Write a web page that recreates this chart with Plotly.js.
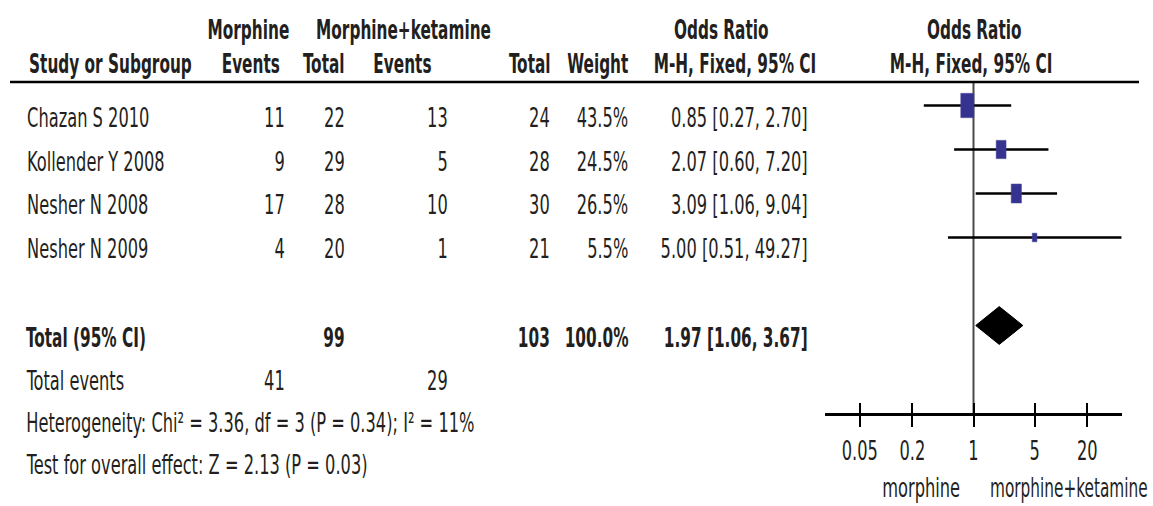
<!DOCTYPE html>
<html>
<head>
<meta charset="utf-8">
<script src="https://cdn.plot.ly/plotly-3.0.1.min.js"></script>
<style>html,body{margin:0;padding:0;background:#fff;}#chart{width:1153px;height:506px;}</style>
</head>
<body>
<div id="chart"></div>
<script>
// ---------------- data ----------------
const studies = ['Chazan S 2010', 'Kollender Y 2008', 'Nesher N 2008', 'Nesher N 2009'];
const morphineEvents = [11, 9, 17, 4];
const morphineTotal = [22, 29, 28, 20];
const ketamineEvents = [13, 5, 10, 1];
const ketamineTotal = [24, 28, 30, 21];
const weights = [43.5, 24.5, 26.5, 5.5];
const orEstimate = [0.85, 2.07, 3.09, 5.00];
const orLower = [0.27, 0.60, 1.06, 0.51];
const orUpper = [2.70, 7.20, 9.04, 49.27];
const pooledOR = [1.97];
const pooledLower = [1.06];
const pooledUpper = [3.67];
const totalMorphine = [99];
const totalKetamine = [103];
const totalWeight = [100.0];
const totalMorphineEvents = [41];
const totalKetamineEvents = [29];
const heterogeneityText = ['Heterogeneity: Chi² = 3.36, df = 3 (P = 0.34); I² = 11%'];
const overallEffectText = ['Test for overall effect: Z = 2.13 (P = 0.03)'];
const tickValues = [0.05, 0.2, 1, 5, 20];
const tickLabels = ['0.05', '0.2', '1', '5', '20'];
const favoursLabels = ['morphine', 'morphine+ketamine'];

// ---------------- layout helpers ----------------
const W = 1153, H = 506;
const FONT = '"DejaVu Sans Condensed", "Liberation Sans Narrow", sans-serif';
const TXT = '#231f20';
const FS = 26;
const SX_REG = 0.695, SX_BOLD = 0.655;       // horizontal condensing of the text
const ROW0 = 105.5, ROWSTEP = 44;            // pixel position of row 0 and row spacing
const AXIS_Y = 413;                          // pixel y of the forest axis line
const X0PX = 825, X1PX = 1122;               // pixel extent of forest axis
const XMIN = 0.02, XMAX = 50;
const PX_PER_DECADE = (X1PX - X0PX) / (Math.log10(XMAX) - Math.log10(XMIN));
const px2r = p => (p - ROW0) / ROWSTEP;
const px = x => x / W;
const py = y => 1 - y / H;

const annotations = [];
const annMeta = [];
function txt(text, xpx, ypx, anchor, bold) {
  annotations.push({
    text: bold ? '<b>' + text + '</b>' : text,
    xref: 'paper', yref: 'paper', x: px(xpx), y: py(ypx),
    xanchor: anchor, yanchor: 'middle', showarrow: false,
    font: {family: FONT, size: FS, color: TXT}, borderpad: 0
  });
  annMeta.push({anchor: anchor, sx: bold ? SX_BOLD : SX_REG});
}

// header
txt('Morphine', 248, 30, 'center', true);
txt('Morphine+ketamine', 403, 30, 'center', true);
txt('Odds Ratio', 721, 30, 'center', true);
txt('Odds Ratio', 974, 30, 'center', true);
txt('Study or Subgroup', 28, 64, 'left', true);
txt('Events', 281, 64, 'right', true);
txt('Total', 346, 64, 'right', true);
txt('Events', 402, 64, 'center', true);
txt('Total', 552, 64, 'right', true);
txt('Weight', 629, 64, 'right', true);
txt('M-H, Fixed, 95% CI', 817, 64, 'right', true);
txt('M-H, Fixed, 95% CI', 971, 64, 'center', true);

// study rows
const textRows = [118, 162, 205, 249];
studies.forEach((s, i) => {
  const y = textRows[i];
  txt(s, 26, y, 'left');
  txt(String(morphineEvents[i]), 286, y, 'right');
  txt(String(morphineTotal[i]), 346, y, 'right');
  txt(String(ketamineEvents[i]), 449, y, 'right');
  txt(String(ketamineTotal[i]), 551, y, 'right');
  txt(weights[i].toFixed(1) + '%', 629, y, 'right');
  txt(orEstimate[i].toFixed(2) + ' [' + orLower[i].toFixed(2) + ', ' + orUpper[i].toFixed(2) + ']', 809, y, 'right');
});

// totals
txt('Total (95% CI)', 25, 338, 'left', true);
txt(String(totalMorphine[0]), 346, 338, 'right', true);
txt(String(totalKetamine[0]), 551, 338, 'right', true);
txt(totalWeight[0].toFixed(1) + '%', 629, 338, 'right', true);
txt(pooledOR[0].toFixed(2) + ' [' + pooledLower[0].toFixed(2) + ', ' + pooledUpper[0].toFixed(2) + ']', 809, 338, 'right', true);
txt('Total events', 25, 381, 'left');
txt(String(totalMorphineEvents[0]), 286, 381, 'right');
txt(String(totalKetamineEvents[0]), 449, 381, 'right');
txt(heterogeneityText[0], 25, 423, 'left');
txt(overallEffectText[0], 25, 465, 'left');

// favours labels (relative to the line of no effect)
annotations.push({text: favoursLabels[0], xref: 'x', yref: 'paper', x: 0, y: py(488),
  xanchor: 'right', yanchor: 'middle', xshift: -13, showarrow: false,
  font: {family: FONT, size: FS, color: TXT}, borderpad: 0});
annMeta.push({anchor: 'right', sx: SX_REG});
annotations.push({text: favoursLabels[1], xref: 'x', yref: 'paper', x: 0, y: py(488),
  xanchor: 'left', yanchor: 'middle', xshift: 15, showarrow: false,
  font: {family: FONT, size: FS, color: TXT}, borderpad: 0});
annMeta.push({anchor: 'left', sx: 0.655});

// ---------------- traces ----------------
const traces = [];
studies.forEach((s, i) => {
  traces.push({type: 'scatter', mode: 'lines', x: [orLower[i], orUpper[i]], y: [i, i],
    line: {color: '#000000', width: 2.5}, hoverinfo: 'skip', showlegend: false});
});
const TOTAL_ROW = 5, DIAMOND_HALF = 0.43;
traces.push({type: 'scatter', mode: 'lines', fill: 'toself', fillcolor: '#000000',
  x: [pooledLower[0], pooledOR[0], pooledUpper[0], pooledOR[0], pooledLower[0]],
  y: [TOTAL_ROW, TOTAL_ROW - DIAMOND_HALF, TOTAL_ROW, TOTAL_ROW + DIAMOND_HALF, TOTAL_ROW],
  line: {color: '#000000', width: 1}, hoverinfo: 'skip', showlegend: false});
// invisible trace to instantiate the inner-tick axis
traces.push({type: 'scatter', mode: 'markers', x: [1], y: [0], xaxis: 'x2', yaxis: 'y',
  marker: {opacity: 0}, hoverinfo: 'skip', showlegend: false});

// ---------------- shapes ----------------
const shapes = [];
shapes.push({type: 'line', xref: 'paper', yref: 'paper', x0: px(10), x1: px(1139), y0: py(82), y1: py(82),
  line: {color: '#000000', width: 2.5}});
shapes.push({type: 'line', xref: 'x', yref: 'paper', x0: 1, x1: 1, y0: py(AXIS_Y), y1: py(82),
  line: {color: '#4a4a4a', width: 2}, layer: 'below'});
// weighted boxes: size grows with sqrt(weight); half-sizes converted to axis units
studies.forEach((s, i) => {
  const wpx = 2.0 * Math.sqrt(weights[i]), hpx = 3.7 * Math.sqrt(weights[i]);
  const f = Math.pow(10, (wpx / 2) / PX_PER_DECADE);
  const hr = (hpx / 2) / ROWSTEP;
  shapes.push({type: 'rect', xref: 'x', yref: 'y',
    x0: orEstimate[i] / f, x1: orEstimate[i] * f, y0: i - hr, y1: i + hr,
    fillcolor: '#35338f', line: {color: '#4a48a0', width: 0.5}});
});

const xr = [Math.log10(XMIN), Math.log10(XMAX)];
const layout = {
  width: W, height: H,
  margin: {l: 0, r: 0, t: 0, b: 0, pad: 0},
  paper_bgcolor: '#ffffff', plot_bgcolor: 'rgba(0,0,0,0)',
  showlegend: false,
  xaxis: {type: 'log', range: xr, autorange: false, domain: [px(X0PX), px(X1PX)], anchor: 'y',
    showgrid: false, zeroline: false, showline: true, linecolor: '#000000', linewidth: 2.5,
    ticks: 'outside', ticklen: 11, tickwidth: 2, tickcolor: '#000000',
    tickvals: tickValues, ticktext: tickLabels, ticklabelstandoff: 2,
    tickfont: {family: FONT, size: FS, color: TXT}, fixedrange: true},
  xaxis2: {type: 'log', range: xr, autorange: false, domain: [px(X0PX), px(X1PX)], anchor: 'y', overlaying: 'x',
    showgrid: false, zeroline: false, showline: false,
    ticks: 'inside', ticklen: 10, tickwidth: 2, tickcolor: '#000000',
    tickvals: tickValues, showticklabels: false, side: 'bottom', fixedrange: true},
  yaxis: {range: [px2r(AXIS_Y), px2r(0)], autorange: false, domain: [1 - AXIS_Y / H, 1],
    visible: false, showgrid: false, zeroline: false, fixedrange: true},
  annotations: annotations,
  shapes: shapes
};

const gd = document.getElementById('chart');
function condense() {
  gd.querySelectorAll('g.annotation').forEach(g => {
    const i = +g.getAttribute('data-index');
    const m = annMeta[i];
    const t = g.querySelector('text.annotation-text');
    if (!m || !t) return;
    t.style.transformBox = 'fill-box';
    t.style.transformOrigin = m.anchor === 'left' ? 'left center' : (m.anchor === 'right' ? 'right center' : 'center center');
    t.style.transform = 'scaleX(' + m.sx + ')';
  });
  gd.querySelectorAll('g.xtick').forEach(g => {
    if (!g.querySelector('text')) return;
    g.style.transformBox = 'fill-box';
    g.style.transformOrigin = 'center center';
    g.style.transform = 'scaleX(' + SX_REG + ')';
  });
}
Plotly.newPlot(gd, traces, layout, {staticPlot: true, displayModeBar: false}).then(condense);
</script>
</body>
</html>
